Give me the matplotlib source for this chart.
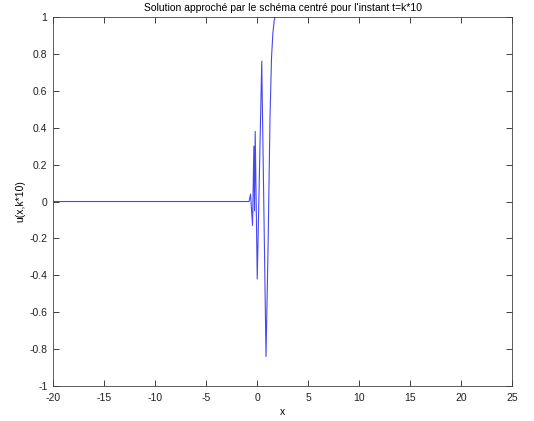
import numpy as np
import matplotlib.pyplot as plt

# grid points and the approximated solution
x = [-20.0, -0.82, -0.78, -0.64, -0.44, -0.31, -0.25, -0.18, 0.02, 0.46,
     0.88, 1.08, 1.27, 1.42, 1.55, 1.68, 1.80, 2.2, 25.0]
u = [0.0, 0.0, 0.0, 0.04, -0.13, 0.30, -0.05, 0.38, -0.42, 0.76,
     -0.84, -0.25, 0.45, 0.78, 0.91, 0.98, 1.01, 1.15, 1.3]

xticks = [-20, -15, -10, -5, 0, 5, 10, 15, 20, 25]
yticks = [-1, -0.8, -0.6, -0.4, -0.2, 0, 0.2, 0.4, 0.6, 0.8, 1]
ylabels = ["-1", "-0.8", "-0.6", "-0.4", "-0.2", "0", "0.2", "0.4", "0.6", "0.8", "1"]

plt.rcParams['font.family'] = ['Liberation Sans', 'DejaVu Sans']
plt.rcParams['axes.unicode_minus'] = False

fig = plt.figure(figsize=(5.34, 4.21), dpi=100)
ax = fig.add_axes([0.0993, 0.0831, 0.8596, 0.8765])
ax.plot(x, u, color='#4848f0', linewidth=0.8)
ax.set_xlim(-20, 25)
ax.set_ylim(-1, 1)
ax.set_xticks(xticks)
ax.set_xticklabels([str(t) for t in xticks])
ax.set_yticks(yticks)
ax.set_yticklabels(ylabels)
ax.tick_params(direction='in', top=True, right=True, length=4, width=0.6,
               labelsize=7.5, colors='#202020')
ax.tick_params(axis='x', pad=5)
ax.tick_params(axis='y', pad=4)
for s in ax.spines.values():
    s.set_linewidth(0.6)
    s.set_color('#404040')
ax.set_title("Solution approché par le schéma centré pour l'instant t=k*10",
             fontsize=7.5, pad=4)
ax.set_xlabel("x", fontsize=7.5, labelpad=3)
ax.set_ylabel("u(x,k*10)", fontsize=7.5, labelpad=3)

fig.savefig("out.png", dpi=100)
